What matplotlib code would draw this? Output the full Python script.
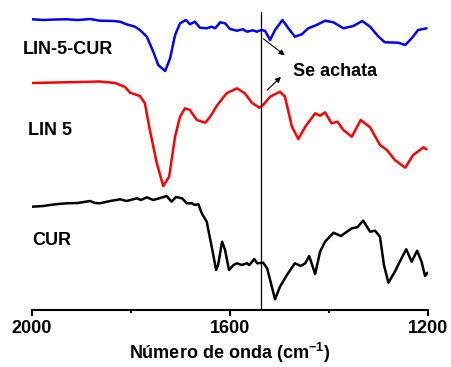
import matplotlib
matplotlib.use('Agg')
import matplotlib.pyplot as plt
from matplotlib.ticker import FixedLocator

plt.rcParams['font.family'] = ['Liberation Sans', 'DejaVu Sans']
plt.rcParams['font.weight'] = 'bold'
plt.rcParams['mathtext.fontset'] = 'custom'
plt.rcParams['mathtext.rm'] = 'Liberation Sans:bold'
plt.rcParams['mathtext.bf'] = 'Liberation Sans:bold'
plt.rcParams['mathtext.default'] = 'rm'

# ################ data (wavenumber, arbitrary intensity) ################
lin5cur_x = [2000, 1977, 1953, 1930, 1907, 1883, 1863, 1836, 1822, 1809, 1792,
             1782, 1768, 1755, 1745, 1731, 1721, 1711, 1701, 1689, 1681, 1671,
             1661, 1647, 1637, 1630, 1620, 1610, 1600, 1586, 1574, 1566, 1554,
             1546, 1536, 1529, 1519, 1509, 1494, 1482, 1469, 1455, 1442, 1425,
             1408, 1391, 1371, 1351, 1333, 1317, 1300, 1287, 1260, 1246, 1233,
             1220, 1203]
lin5cur_y = [290.7, 290, 290.5, 290.7, 290, 291, 289.3, 289, 288.3, 285.7, 283.3,
             280, 273.3, 258.3, 245, 239, 251.7, 275, 286.7, 290, 285.7, 288.3,
             282.3, 281.7, 283.3, 281.7, 287.7, 286.7, 281, 279.3, 280.7, 278.3, 279.7,
             278.3, 280, 279, 270, 280, 290, 281.7, 273.3, 275.7, 281.7, 285,
             289.3, 287.7, 281.7, 284, 289, 283.3, 273.3, 267.7, 267.3, 265, 271.7,
             280, 281.7]

lin5_x = [2000, 1953, 1903, 1863, 1832, 1812, 1802, 1782, 1772, 1762, 1748,
          1735, 1723, 1711, 1701, 1691, 1681, 1667, 1650, 1640, 1627, 1607,
          1586, 1570, 1556, 1541, 1535, 1519, 1499, 1489, 1475, 1462, 1448,
          1428, 1418, 1408, 1395, 1383, 1371, 1354, 1336, 1317, 1297, 1283,
          1267, 1246, 1230, 1209, 1203]
lin5_y = [227, 227.5, 228, 228.5, 227, 223, 217.3, 214, 206.7, 180, 147,
          124, 133.3, 173.3, 193.3, 201.7, 200, 190, 187.3, 193.3, 204, 216.7,
          221.7, 216.7, 207.3, 202.3, 204, 213.3, 218.3, 213.3, 183.3, 171, 183.3,
          196.7, 194.3, 197.7, 186.7, 188.3, 180, 173.3, 190, 182.7, 165, 160,
          150, 142.3, 155, 162.7, 160.7]

cur_x = [2000, 1977, 1964, 1947, 1930, 1907, 1883, 1873, 1863, 1842, 1822,
         1809, 1788, 1780, 1768, 1755, 1741, 1728, 1718, 1709, 1697, 1687,
         1677, 1671, 1664, 1657, 1647, 1637, 1628, 1624, 1616, 1610, 1602,
         1593, 1586, 1576, 1566, 1561, 1551, 1545, 1533, 1525, 1509, 1499,
         1485, 1469, 1457, 1448, 1440, 1428, 1418, 1408, 1391, 1376, 1354,
         1343, 1331, 1317, 1307, 1297, 1289, 1280, 1267, 1257, 1244, 1233,
         1222, 1213, 1206, 1201]
cur_y = [103.3, 104, 105, 106, 106.7, 107, 109, 107, 106.7, 109, 110.7,
         109, 111.7, 110, 112.7, 110, 112, 114, 108.3, 113, 111.7, 106.7,
         106.7, 105, 106, 96.7, 88.3, 63.3, 40, 45, 68.3, 60, 40,
         45, 46.7, 45, 46.7, 45, 51, 46.7, 47.3, 41.7, 10.7, 23.3,
         35, 46.7, 44, 46.7, 54, 36, 58.3, 68.3, 77.3, 74, 81.7,
         82.7, 89.3, 78.3, 79.3, 73.3, 45, 27.3, 38.3, 48.3, 60.7, 48.3,
         59.3, 48.3, 34, 37.3]

series_names = ['LIN-5-CUR', 'LIN 5', 'CUR']
marker_wn = 1537

# ################ plot ################
fig = plt.figure(figsize=(4.51, 3.67), dpi=100)
ax = fig.add_axes([32 / 451, 57 / 367, 396 / 451, 305 / 367])

style = dict(lw=1.8, solid_joinstyle='round', solid_capstyle='round')
ax.plot(lin5cur_x, lin5cur_y, color='#0000ff', **style)
ax.plot(lin5_x, lin5_y, color='#ff0000', **style)
ax.plot(cur_x, cur_y, color='black', **style)

ax.plot([marker_wn, marker_wn], [0, 298], color='black', lw=0.9)

ax.text(2018, 261, series_names[0], fontsize=13, fontweight='bold', va='center')
ax.text(2008, 180, series_names[1], fontsize=13, fontweight='bold', va='center')
ax.text(2000, 70, series_names[2], fontsize=13, fontweight='bold', va='center')

ax.annotate('', xy=(1485, 253), xytext=(1537, 273),
            arrowprops=dict(arrowstyle='-|>', color='black', lw=0.8, mutation_scale=8))
ax.annotate('', xy=(1493, 235), xytext=(1529, 218),
            arrowprops=dict(arrowstyle='-|>', color='black', lw=0.8, mutation_scale=8))
ax.text(1388, 239, 'Se achata', fontsize=13, fontweight='bold', ha='center', va='center')

ax.set_xlim(2000, 1200)
ax.set_ylim(0, 305)
for s in ['top', 'left', 'right']:
    ax.spines[s].set_visible(False)
ax.spines['bottom'].set_linewidth(1.5)
ax.set_yticks([])
ax.xaxis.set_major_locator(FixedLocator([2000, 1600, 1200]))
ax.xaxis.set_minor_locator(FixedLocator([1800, 1400]))
ax.tick_params(axis='x', which='major', length=4, width=1.5, labelsize=13, pad=3)
ax.tick_params(axis='x', which='minor', length=2, width=1.5)
for lab in ax.get_xticklabels():
    lab.set_fontweight('bold')
ax.set_xlabel('Número de onda (cm$^{-1}$)', fontsize=13, fontweight='bold', labelpad=3)

fig.savefig('out.png', dpi=100)
